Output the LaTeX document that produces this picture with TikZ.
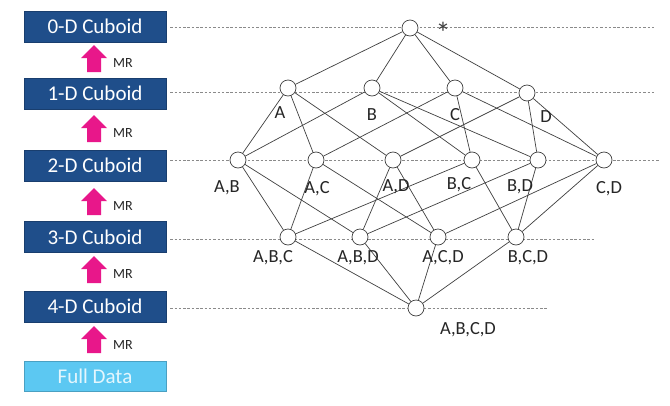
\documentclass[tikz,border=0pt]{standalone}
\usepackage{fontspec}
\setmainfont{Carlito}
\definecolor{boxblue}{HTML}{1F4E8A}
\definecolor{lightblue}{HTML}{5CC8F2}
\definecolor{fulltext}{HTML}{E4F6FD}
\definecolor{mrpink}{HTML}{E8178A}
\definecolor{edgegray}{HTML}{404040}
\definecolor{dashgray}{HTML}{8A8A8A}
\begin{document}
\begin{tikzpicture}[x=1pt,y=-1pt,
  cuboid/.style={draw=boxblue!80!black,fill=boxblue,text=white,minimum width=142pt,minimum height=31pt,inner sep=0pt,font=\fontsize{21}{23}\selectfont},
  fulldata/.style={draw=lightblue!80!black,fill=lightblue,text=fulltext,minimum width=142pt,minimum height=30pt,inner sep=0pt,font=\fontsize{21}{23}\selectfont},
  lat/.style={circle,draw=edgegray,fill=white,minimum size=16pt,inner sep=0pt,line width=0.7pt},
  lbl/.style={inner sep=0pt,font=\fontsize{18.5}{20}\selectfont,text=black!85},
  mr/.style={inner sep=0pt,font=\fontsize{14}{16}\selectfont,text=black!85},
  edge/.style={draw=edgegray,line width=0.7pt},
  level/.style={draw=dashgray,line width=0.6pt,dash pattern=on 2.5pt off 1.8pt},
  uparrow/.style={fill=mrpink,draw=none}
]
\useasboundingbox (0,0) rectangle (670,405);
\fill[white] (0,0) rectangle (670,405);

% left boxes
\node[cuboid] (c0) at (95,26.5) {0-D Cuboid};
\node[cuboid] (c1) at (95,93.5) {1-D Cuboid};
\node[cuboid] (c2) at (95,165.5) {2-D Cuboid};
\node[cuboid] (c3) at (95,237) {3-D Cuboid};
\node[cuboid] (c4) at (95,306.5) {4-D Cuboid};
\node[fulldata] (fd) at (95,376) {Full Data};

% MR arrows
\foreach \t/\b/\n in {45/72/a1,115/142/a2,188/215/a3,256/283/a4,326/353/a5}{
  \fill[uparrow] (94,\t) -- (107,\t+13) -- (101,\t+13) -- (101,\b) -- (87,\b) -- (87,\t+13) -- (81,\t+13) -- cycle;
}
\node[mr] (m1) at (123,63) {MR};
\node[mr] (m2) at (123,133) {MR};
\node[mr] (m3) at (123,206) {MR};
\node[mr] (m4) at (123,274) {MR};
\node[mr] (m5) at (123,345) {MR};

% dashed level lines
\coordinate (l0e) at (655,27);
\coordinate (l1e) at (655,92);
\coordinate (l2e) at (660,160);
\coordinate (l3e) at (595,239);
\coordinate (l4e) at (548,308);
\draw[level] (c0.east) ++(4,0.5) -- (l0e);
\draw[level] (c1.east) ++(4,-1.5) -- (l1e);
\draw[level] (c2.east) ++(4,-5.5) -- (l2e);
\draw[level] (c3.east) ++(4,2) -- (l3e);
\draw[level] (c4.east) ++(4,1.5) -- (l4e);

% lattice nodes
\node[lat] (all) at (410,28) {};
\node[lat] (A) at (288,88) {};
\node[lat] (B) at (372,88) {};
\node[lat] (C) at (455,88) {};
\node[lat] (D) at (527,93) {};
\node[lat] (AB) at (238,160) {};
\node[lat] (AC) at (316,160) {};
\node[lat] (AD) at (393,160) {};
\node[lat] (BC) at (472,160) {};
\node[lat] (BD) at (538,160) {};
\node[lat] (CD) at (604,160) {};
\node[lat] (ABC) at (288,237) {};
\node[lat] (ABD) at (360,237) {};
\node[lat] (ACD) at (438,237) {};
\node[lat] (BCD) at (516,237) {};
\node[lat] (ABCD) at (416,308) {};

% edges
\foreach \u/\v in {all/A,all/B,all/C,all/D,
  A/AB,A/AC,A/AD,B/AB,B/BC,B/BD,C/AC,C/BC,C/CD,D/AD,D/BD,D/CD,
  AB/ABC,AB/ABD,AC/ABC,AC/ACD,AD/ABD,AD/ACD,BC/ABC,BC/BCD,BD/ABD,BD/BCD,CD/ACD,CD/BCD,
  ABC/ABCD,ABD/ABCD,ACD/ABCD,BCD/ABCD}{
  \draw[edge] (\u) -- (\v);
}

% labels
\node[inner sep=0pt,anchor=north,font=\fontsize{30}{30}\selectfont,text=black!75] (tall) at (443,22) {*};
\node[lbl] (tA) at (280,113) {A};
\node[lbl] (tB) at (372,115) {B};
\node[lbl] (tC) at (455,115) {C};
\node[lbl] (tD) at (546,117) {D};
\node[lbl] (tAB) at (227,188) {A,B};
\node[lbl] (tAC) at (317,189) {A,C};
\node[lbl] (tAD) at (396,187) {A,D};
\node[lbl] (tBC) at (459,185) {B,C};
\node[lbl] (tBD) at (520,187) {B,D};
\node[lbl] (tCD) at (609,189) {C,D};
\node[lbl] (tABC) at (273,258) {A,B,C};
\node[lbl] (tABD) at (358,258) {A,B,D};
\node[lbl] (tACD) at (443,258) {A,C,D};
\node[lbl] (tBCD) at (528,258) {B,C,D};
\node[lbl] (tABCD) at (468,330) {A,B,C,D};
\end{tikzpicture}
\end{document}
